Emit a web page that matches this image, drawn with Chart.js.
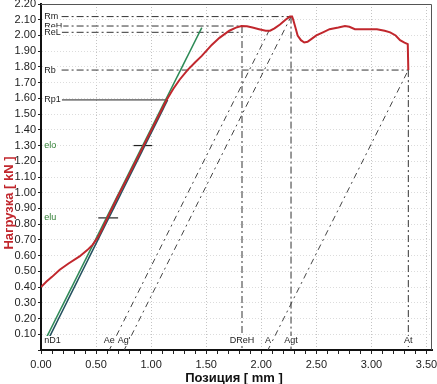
<!DOCTYPE html>
<html>
<head>
<meta charset="utf-8">
<script src="https://cdn.jsdelivr.net/npm/chart.js@4.4.1/dist/chart.umd.min.js"></script>
<style>
  body { margin: 0; background: #fff; }
  #wrap { width: 437px; height: 384px; }
</style>
</head>
<body>
<div id="wrap"><canvas id="chart" width="437" height="384"></canvas></div>
<script>
// ---- test curve: position [mm] / load [kN] ----
const posMm = [0.00, 0.05, 0.10, 0.17, 0.25, 0.35, 0.42, 0.47, 0.52, 0.56, 0.60, 0.70, 0.80, 0.90, 1.00, 1.08, 1.14,
  1.20, 1.26, 1.33, 1.40, 1.46, 1.55, 1.62, 1.71, 1.77, 1.82, 1.87, 1.92, 1.98, 2.04, 2.08, 2.12, 2.17, 2.22, 2.26,
  2.28, 2.29, 2.31, 2.33, 2.36, 2.39, 2.42, 2.46, 2.50, 2.56, 2.62, 2.70, 2.76, 2.80, 2.85, 2.95, 3.05, 3.12, 3.17,
  3.22, 3.26, 3.30, 3.33, 3.335]
const loadKn = [0.40, 0.435, 0.465, 0.51, 0.55, 0.595, 0.635, 0.67, 0.72, 0.775, 0.835, 0.98, 1.115, 1.255, 1.395, 1.505, 1.59,
  1.66, 1.72, 1.78, 1.83, 1.87, 1.94, 1.985, 2.03, 2.05, 2.06, 2.058, 2.05, 2.04, 2.03, 2.03, 2.045, 2.07, 2.10, 2.12,
  2.12, 2.10, 2.05, 2.00, 1.97, 1.955, 1.96, 1.98, 2.00, 2.02, 2.04, 2.05, 2.06, 2.055, 2.04, 2.04, 2.04, 2.03, 2.02,
  2.00, 1.97, 1.955, 1.945, 1.78]

// Hooke line and modulus line
const hookeX = [0.05, 1.46]
const hookeY = [0.08, 2.05]
const modX = [0.075, 1.15]
const modY = [0.08, 1.59]

// force levels (label, kN, where the line ends in mm)
const forceNames = ['Rm', 'ReH', 'ReL', 'Rb', 'Rp1']
const forceKn = [2.12, 2.06, 2.02, 1.78, 1.59]
const forceEndMm = [2.27, 1.825, 1.825, 3.335, 1.14]

// elongation marks on the x axis (label, mm, load at the top of the line)
const elongNames = ['Ae', "Ag'", 'DReH', 'A', 'Agt', 'At']
const elongMm = [0.62, 0.755, 1.825, 2.06, 2.27, 3.335]
const slopeTopX = [2.07, 2.27, null, 3.335, null, null]
const slopeTopY = [2.03, 2.12, null, 1.78, null, null]
const verticalTopY = [null, null, 2.06, null, 2.12, 1.78]

// modulus range points
const modNames = ['elo', 'elu']
const modKn = [1.30, 0.84]
const crossFrom = [0.84, 0.52]
const crossTo = [1.01, 0.70]

// axis ticks
const xLabelStep = 0.5
const yTicks = []
for (let i = 0; i <= 22; i++) yTicks.push(+(i / 10).toFixed(2))
const xTicks = []
for (let i = 0; i <= 35; i++) xTicks.push(+(i / 10).toFixed(2))

const dashDot = [7, 3, 2, 3]
const pts = (xs, ys) => xs.map((x, i) => ({ x: x, y: ys[i] }))

function lineSet(data, color, width, dash) {
  return { data: data, borderColor: color, borderWidth: width, borderDash: dash || [], pointRadius: 0, fill: false, tension: 0 }
}

const datasets = []
//main curve
datasets.push(lineSet(pts(posMm, loadKn), '#c1272d', 2))
datasets.push(lineSet(pts(hookeX, hookeY), '#2e8b57', 1.5))
datasets.push(lineSet(pts(modX, modY), '#24505e', 1.5))

// horizontal force lines
forceNames.forEach((n, i) => {
  const solid = n == 'Rp1'
  datasets.push(lineSet([{ x: 0.187, y: forceKn[i] }, { x: forceEndMm[i], y: forceKn[i] }], solid ? '#222' : '#333', 1, solid ? [] : dashDot))
})

// slope lines and verticals
elongMm.forEach((m, i) => {
  if (slopeTopX[i] != null) {
    datasets.push(lineSet([{ x: m, y: 0 }, { x: slopeTopX[i], y: slopeTopY[i] }], '#444', 1, [6, 4, 2, 4]))
  }
  if (verticalTopY[i] != null) {
    datasets.push(lineSet([{ x: m, y: verticalTopY[i] }, { x: m, y: 0 }], '#333', 1, dashDot))
  }
})

// crosses at elo / elu
modKn.forEach((k, i) => {
  datasets.push(lineSet([{ x: crossFrom[i], y: k }, { x: crossTo[i], y: k }], '#222', 1.2))
})

const FONT = "'Liberation Sans', Arial, sans-serif"

function tag(ctx, text, x, y, align, color) {
  ctx.font = '9px ' + FONT
  const w = ctx.measureText(text).width
  const left = align == 'left' ? x : x - w / 2
  ctx.fillStyle = '#fff'
  ctx.fillRect(left - 1, y - 5, w + 2, 10)
  ctx.fillStyle = color || '#222'
  ctx.textAlign = 'left'
  ctx.textBaseline = 'middle'
  ctx.fillText(text, left, y)
}

const annotations = {
  id: 'annotations',
  afterDatasetsDraw(chart) {
    const ctx = chart.ctx
    const xs = chart.scales.x
    const ys = chart.scales.y
    const a = chart.chartArea
    ctx.save()

    // frame top/right
    ctx.strokeStyle = '#555'
    ctx.lineWidth = 1
    ctx.beginPath()
    ctx.moveTo(a.left, a.top + 0.5)
    ctx.lineTo(a.right - 0.5, a.top + 0.5)
    ctx.lineTo(a.right - 0.5, a.bottom)
    ctx.stroke()

    const lx = xs.getPixelForValue(0.03)
    forceNames.forEach((n, i) => tag(ctx, n, lx, ys.getPixelForValue(forceKn[i]), 'left'))
    modNames.forEach((n, i) => tag(ctx, n, lx, ys.getPixelForValue(modKn[i]), 'left', '#2e7d32'))

    const by = ys.getPixelForValue(0) - 9
    tag(ctx, 'nD1', lx, by, 'left')
    elongNames.forEach((n, i) => tag(ctx, n, xs.getPixelForValue(elongMm[i]), by, 'center'))

    // axis titles
    ctx.font = 'bold 13px ' + FONT
    ctx.textAlign = 'center'
    ctx.textBaseline = 'middle'
    ctx.fillStyle = '#111'
    ctx.fillText('Позиция [ mm ]', 234, 378)
    ctx.translate(9, 203)
    ctx.rotate(-Math.PI / 2)
    ctx.fillStyle = '#c1272d'
    ctx.fillText('Нагрузка [ kN ]', 0, 0)
    ctx.restore()
  },
}

const isMajor = (v) => Math.abs(v / xLabelStep - Math.round(v / xLabelStep)) < 1e-6

new Chart(document.getElementById('chart'), {
  type: 'line',
  data: { datasets: datasets },
  options: {
    responsive: false,
    animation: false,
    layout: { padding: { top: 4, right: 5, left: 0, bottom: 0 } },
    plugins: { legend: { display: false }, tooltip: { enabled: false } },
    scales: {
      x: {
        type: 'linear',
        min: 0,
        max: 3.55,
        afterBuildTicks: (s) => { s.ticks = xTicks.map((v) => ({ value: v })) },
        afterFit: (s) => {
          s.height = 34
          s.paddingLeft = 0
          s.paddingRight = 0
        },
        ticks: {
          autoSkip: false,
          maxRotation: 0,
          padding: 4,
          color: '#222',
          font: { family: FONT, size: 11 },
          callback: (v) => (isMajor(v) ? v.toFixed(2) : ''),
        },
        grid: {
          color: (c) => (c.tick && isMajor(c.tick.value) && c.tick.value > 0 ? '#c4c4c4' : 'rgba(0,0,0,0)'),
          tickColor: '#222',
          tickLength: 4,
        },
        border: { display: true, color: '#111', width: 2, dash: [1, 2] },
      },
      y: {
        type: 'linear',
        min: 0,
        max: 2.2,
        afterBuildTicks: (s) => { s.ticks = yTicks.map((v) => ({ value: v })) },
        afterFit: (s) => {
          s.width = 41
          s.paddingTop = 0
          s.paddingBottom = 0
        },
        ticks: {
          autoSkip: false,
          padding: 2,
          color: '#222',
          font: { family: FONT, size: 11 },
          callback: (v) => (v == 0 ? '' : v.toFixed(2)),
        },
        grid: {
          color: (c) => (c.tick && c.tick.value > 0 ? '#dcdcdc' : 'rgba(0,0,0,0)'),
          tickColor: '#222',
          tickLength: 3,
        },
        border: { display: true, color: '#111', width: 2, dash: [1, 2] },
      },
    },
  },
  plugins: [annotations],
})
</script>
</body>
</html>
